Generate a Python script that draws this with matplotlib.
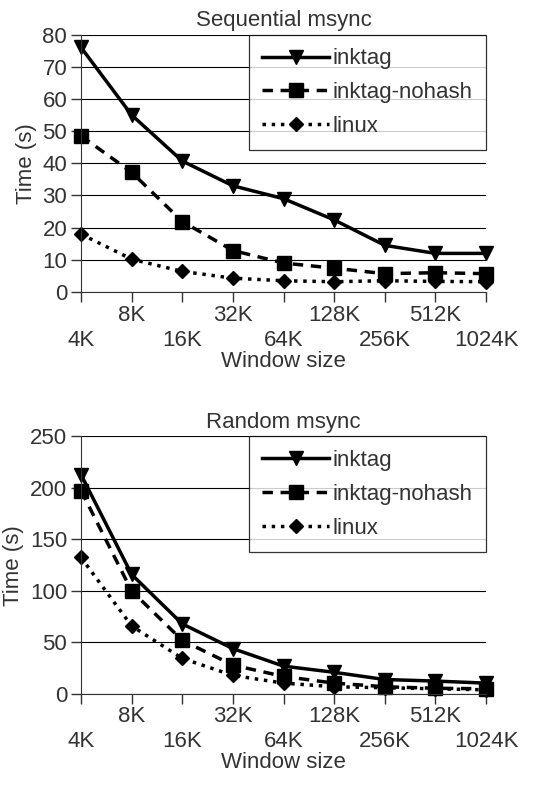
import matplotlib.pyplot as plt
import numpy as np

plt.rcParams['font.family'] = ['Liberation Sans', 'DejaVu Sans']

sizes = ['4K', '8K', '16K', '32K', '64K', '128K', '256K', '512K', '1024K']

seq_inktag = [76, 55, 40.7, 33, 29, 22.4, 14.5, 12, 12]
seq_nohash = [48.5, 37.2, 21.9, 12.9, 9, 7.4, 5.7, 6, 5.7]
seq_linux = [18, 10.2, 6.4, 4.3, 3.5, 3.2, 3.5, 3.3, 3.2]

rnd_inktag = [213, 116, 68, 44, 27, 21, 14, 12.5, 10.5]
rnd_nohash = [197.5, 100, 52, 28, 17, 10.5, 7, 5.5, 5]
rnd_linux = [132.5, 66, 34.5, 18, 10.5, 7, 6, 5, 4]

txt = '#333333'
fs = 16
fig = plt.figure(figsize=(5.33, 7.85), dpi=100)

def panel(rect, title, a, b, c, ymax, ystep):
    ax = fig.add_axes(rect)
    x = np.arange(len(sizes))
    ax.plot(x, a, '-', color='black', lw=2.5, marker='v', ms=10.5, label='inktag',
            clip_on=False)
    ax.plot(x, b, '--', color='black', lw=2.5, marker='s', ms=10,
            dashes=(3, 2.2), label='inktag-nohash', clip_on=False)
    ax.plot(x, c, ':', color='black', lw=2.5, marker='D', ms=7, label='linux',
            clip_on=False)
    ax.set_xlim(0, len(sizes) - 1)
    ax.set_ylim(0, ymax)
    ax.set_yticks(np.arange(0, ymax + 1, ystep))
    # staggered labels: even positions on the lower row, odd on the upper row
    ax.set_xticks(x[::2], [sizes[i] for i in x[::2]])
    ax.set_xticks(x[1::2], [sizes[i] for i in x[1::2]], minor=True)
    ax.yaxis.grid(True, color='black', lw=0.8)
    ax.set_axisbelow(True)
    for s in ['top', 'right']:
        ax.spines[s].set_visible(False)
    ax.spines['left'].set_color('#333333')
    ax.spines['bottom'].set_color('#333333')
    ax.tick_params(which='both', colors=txt, labelsize=fs, length=7, width=1)
    ax.tick_params(axis='x', which='minor', pad=2)
    ax.tick_params(axis='x', which='major', pad=20)
    ax.tick_params(axis='y', pad=3)
    ax.set_title(title, fontsize=fs, color=txt, pad=6)
    ax.set_ylabel('Time (s)', fontsize=fs, color=txt, labelpad=4)
    ax.set_xlabel('Window size', fontsize=fs, color=txt, labelpad=0)
    leg = ax.legend(loc='upper right', bbox_to_anchor=(1.0, 1.0), fontsize=fs,
                    frameon=True, fancybox=False, edgecolor='black',
                    handlelength=3.0, borderaxespad=0, borderpad=0.62,
                    labelspacing=0.57, handletextpad=0.15)
    leg.get_frame().set_linewidth(0.9)
    for t in leg.get_texts():
        t.set_color(txt)
    return ax

panel([0.152, 0.628, 0.76, 0.328], 'Sequential msync',
      seq_inktag, seq_nohash, seq_linux, 80, 10)
panel([0.152, 0.116, 0.76, 0.328], 'Random msync',
      rnd_inktag, rnd_nohash, rnd_linux, 250, 50)

fig.savefig('out.png', dpi=100)
